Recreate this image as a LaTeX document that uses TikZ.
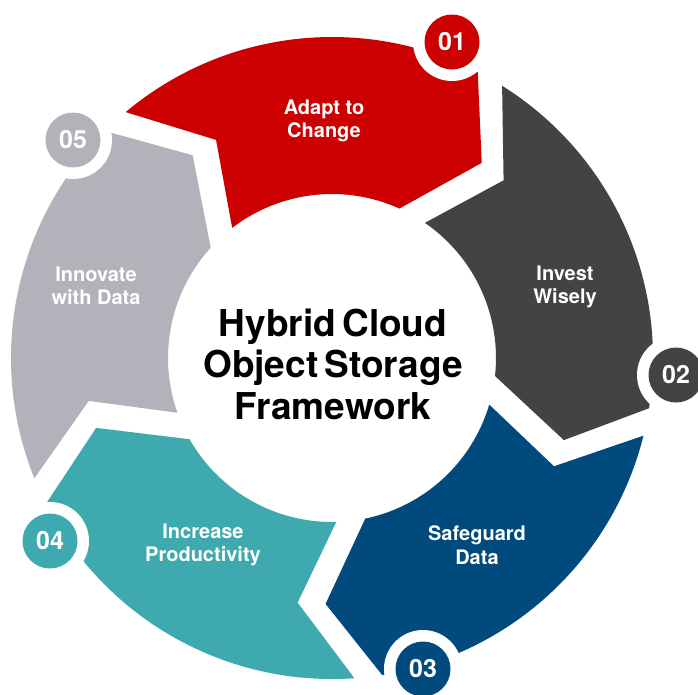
\documentclass[tikz,border=0pt]{standalone}
\usepackage{fontspec}
\setmainfont{TeX Gyre Heros}
\definecolor{cRed}{RGB}{204,0,0}
\definecolor{cDark}{RGB}{67,67,67}
\definecolor{cNavy}{RGB}{0,74,125}
\definecolor{cTeal}{RGB}{62,170,175}
\definecolor{cGray}{RGB}{177,178,186}
\newcommand{\tightsp}{\spaceskip=0.17em\relax}
\tikzset{
  seglabel/.style={text=white, align=center, font=\bfseries\fontsize{20}{23.5}\selectfont},
  ringdisc/.style={circle, fill=white, minimum size=78pt, inner sep=0pt},
  numdisc/.style={circle, minimum size=55pt, inner sep=0pt, text=white, font=\bfseries\fontsize{25}{25}\selectfont},
  titlestyle/.style={text=black, align=center, font=\bfseries\fontsize{37}{41.5}\selectfont}
}
\begin{document}
\begin{tikzpicture}[x=1pt,y=1pt]
\fill[white] (0,0) rectangle (698,-694);
\useasboundingbox (0,0) rectangle (698,-694);
\clip (0,0) rectangle (698,-694);
\begin{scope}[shift={(332,-358)}]
  \foreach \k/\col in {0/cRed,1/cDark,2/cNavy,3/cTeal,4/cGray}{
    \fill[\col, rotate=-72*\k] (130:321pt) arc[start angle=130, end angle=63, radius=321pt]
      -- (52.5:246pt) -- (65.7:164pt)
      arc[start angle=65.7, end angle=127.5, radius=164pt]
      -- (118:247pt) -- cycle;
  }
\end{scope}
\foreach \k/\col/\t/\px/\py in {0/cRed/01/452/42,1/cDark/02/676/375,2/cNavy/03/423/669,3/cTeal/04/50/541,4/cGray/05/73/140}{
  \node[ringdisc] (w\k) at (\px,-\py) {};
  \node[numdisc, fill=\col] (n\k) at (w\k) {\t};
}
\node[seglabel] (l1) at (324,-121) {Adapt to\\Change};
\node[seglabel] (l2) at (565,-287) {Invest\\Wisely};
\node[seglabel] (l3) at (477,-545) {Safeguard\\Data};
\node[seglabel] (l4) at (203,-545) {Increase\\Productivity};
\node[seglabel] (l5) at (96,-286) {Innovate\\with Data};
\node[titlestyle] (title) at (333,-364) {\tightsp Hybrid Cloud\\\tightsp Object Storage\\Framework};
\end{tikzpicture}
\end{document}
